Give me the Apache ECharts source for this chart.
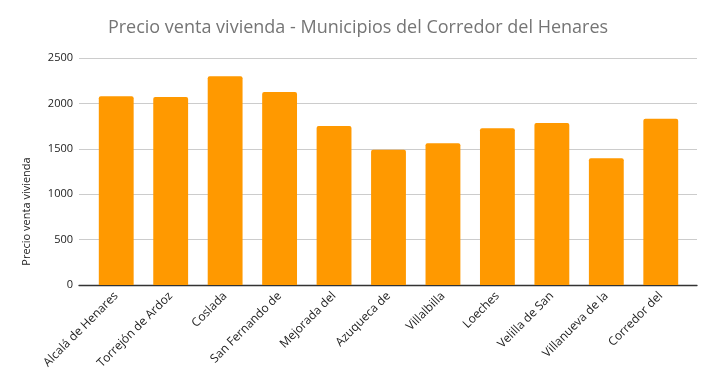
<!DOCTYPE html>
<html>
<head>
<meta charset="utf-8">
<script src="https://cdn.jsdelivr.net/npm/echarts@6/dist/echarts.min.js"></script>
<style>html,body{margin:0;padding:0;background:#fff}#c{width:716px;height:390px}</style>
</head>
<body>
<div id="c"></div>
<script>
const titleText = "Precio venta vivienda - Municipios del Corredor del Henares";
const yAxisName = "Precio venta vivienda";
const categories = ["Alcalá de Henares", "Torrejón de Ardoz", "Coslada", "San Fernando de", "Mejorada del", "Azuqueca de", "Villalbilla", "Loeches", "Velilla de San", "Villanueva de la", "Corredor del"];
const values = [2080, 2070, 2300, 2125, 1750, 1490, 1560, 1725, 1785, 1395, 1830];
const yTicks = [0, 500, 1000, 1500, 2000, 2500];

const yMin = yTicks[0], yMax = yTicks[yTicks.length - 1], yStep = yTicks[1] - yTicks[0];
const chart = echarts.init(document.getElementById('c'), null, {renderer: 'canvas'});
chart.setOption({
  animation: false,
  backgroundColor: '#fff',
  title: {
    text: titleText,
    left: 'center',
    top: 14,
    textStyle: {fontFamily: 'Open Sans', fontSize: 18, fontWeight: 'normal', color: '#757575'}
  },
  grid: [
    {left: 79, right: 19, top: 58, bottom: 105, containLabel: false},
    {left: 89, right: 28, top: 58, bottom: 105, containLabel: false}
  ],
  xAxis: [
    {
      type: 'category', gridIndex: 0, data: categories,
      axisLine: {lineStyle: {color: '#333', width: 1.3}},
      axisTick: {show: false}, axisLabel: {show: false}
    },
    {
      type: 'category', gridIndex: 1, data: categories,
      axisLine: {show: false},
      axisTick: {show: false},
      axisLabel: {rotate: 45, interval: 0, margin: 9, fontFamily: 'Open Sans', fontSize: 12, color: '#222'}
    }
  ],
  yAxis: [
    {
      type: 'value', gridIndex: 0,
      min: yMin, max: yMax, interval: yStep,
      name: yAxisName,
      nameLocation: 'middle',
      nameGap: 47,
      nameTextStyle: {fontFamily: 'Open Sans', fontSize: 11, color: '#222', padding: [0, 80, 0, 0]},
      axisLine: {show: false},
      axisTick: {show: false},
      axisLabel: {margin: 6, fontFamily: 'Open Sans', fontSize: 11, color: '#222', formatter: v => String(v)},
      splitLine: {lineStyle: {color: '#cccccc', width: 1}}
    },
    {
      type: 'value', gridIndex: 1,
      min: yMin, max: yMax, interval: yStep,
      show: false, splitLine: {show: false}
    }
  ],
  series: [{
    type: 'bar',
    xAxisIndex: 1, yAxisIndex: 1,
    data: values,
    barWidth: '64%',
    z: 3,
    itemStyle: {color: '#ff9900', borderRadius: [2, 2, 0, 0]}
  }]
});
</script>
</body>
</html>
